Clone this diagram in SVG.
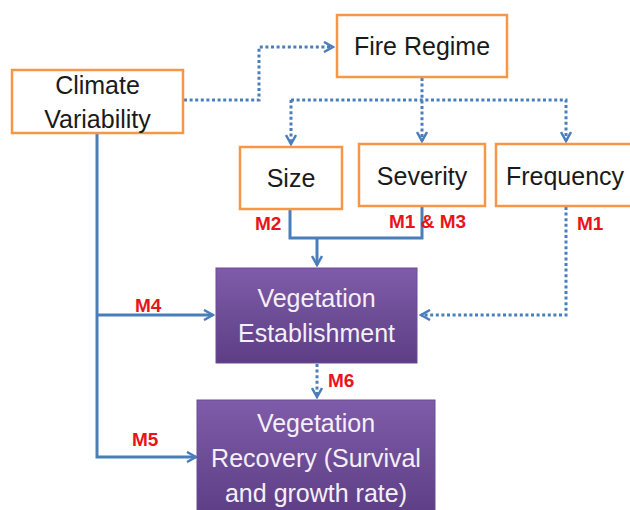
<svg xmlns="http://www.w3.org/2000/svg" width="630" height="510" viewBox="0 0 630 510">
<style>
.obox{fill:#fff;stroke:#f79646;stroke-width:2.5}
.pbox{fill:url(#pg);stroke:#6a4c93;stroke-width:1}
.t{font-family:"Liberation Sans",Arial,sans-serif;font-size:25px;fill:#1a1a1a;text-anchor:middle}
.w{font-family:"Liberation Sans",Arial,sans-serif;font-size:25px;fill:#f4f0f8;text-anchor:middle}
.m{font-family:"Liberation Sans",Arial,sans-serif;font-size:19px;font-weight:bold;fill:#e8141b}
.s{fill:none;stroke:#4a7ebb;stroke-width:3}
.d{fill:none;stroke:#4a7ebb;stroke-width:3;stroke-dasharray:3 2.6}
</style>
<defs>
<linearGradient id="pg" x1="0" y1="0" x2="0" y2="1">
<stop offset="0" stop-color="#7f5ca9"/>
<stop offset="1" stop-color="#5d3e85"/>
</linearGradient>
<marker id="ah" viewBox="0 0 12 12" refX="10" refY="6" markerWidth="12" markerHeight="12" markerUnits="userSpaceOnUse" orient="auto">
<path d="M1,1 L10,6 L1,11" fill="none" stroke="#4a7ebb" stroke-width="2.5"/>
</marker>
</defs>
<g id="connectors">
<path class="d" d="M184,100 H259 V47 H333" marker-end="url(#ah)"/>
<path class="d" d="M422,78 V141" marker-end="url(#ah)"/>
<path class="d" d="M291,100 H566 V141" marker-end="url(#ah)"/>
<path class="d" d="M291,100 V144" marker-end="url(#ah)"/>
<path class="s" d="M290,209 V238 H422 V206"/>
<path class="s" d="M317,238 V265" marker-end="url(#ah)"/>
<path class="d" d="M566,207 V315 H421" marker-end="url(#ah)"/>
<path class="s" d="M97,133 V457 H196" marker-end="url(#ah)"/>
<path class="s" d="M97,315 H213" marker-end="url(#ah)"/>
<path class="d" d="M317,364 V397" marker-end="url(#ah)"/>
</g>
<g id="climate">
<rect class="obox" x="12" y="70" width="171" height="63"/>
<text class="t" x="97.5" y="94">Climate</text>
<text class="t" x="97.5" y="128">Variability</text>
</g>
<g id="fire-regime">
<rect class="obox" x="337" y="15" width="170" height="62"/>
<text class="t" x="422" y="55">Fire Regime</text>
</g>
<g id="size">
<rect class="obox" x="240" y="147" width="102" height="62"/>
<text class="t" x="291" y="187">Size</text>
</g>
<g id="severity">
<rect class="obox" x="359" y="144" width="126" height="62"/>
<text class="t" x="422" y="185">Severity</text>
</g>
<g id="frequency">
<rect class="obox" x="496" y="144" width="140" height="62"/>
<text class="t" x="565" y="185">Frequency</text>
</g>
<g id="veg-establishment">
<rect class="pbox" x="216" y="268" width="201" height="95"/>
<text class="w" x="316.5" y="307">Vegetation</text>
<text class="w" x="316.5" y="342">Establishment</text>
</g>
<g id="veg-recovery">
<rect class="pbox" x="197" y="400" width="238" height="115"/>
<text class="w" x="316" y="432">Vegetation</text>
<text class="w" x="316" y="467">Recovery (Survival</text>
<text class="w" x="316" y="502">and growth rate)</text>
</g>
<g id="labels">
<text class="m" x="255" y="230">M2</text>
<text class="m" x="389" y="228">M1 &amp; M3</text>
<text class="m" x="577" y="230">M1</text>
<text class="m" x="135" y="312">M4</text>
<text class="m" x="328" y="387">M6</text>
<text class="m" x="132" y="446">M5</text>
</g>
</svg>
